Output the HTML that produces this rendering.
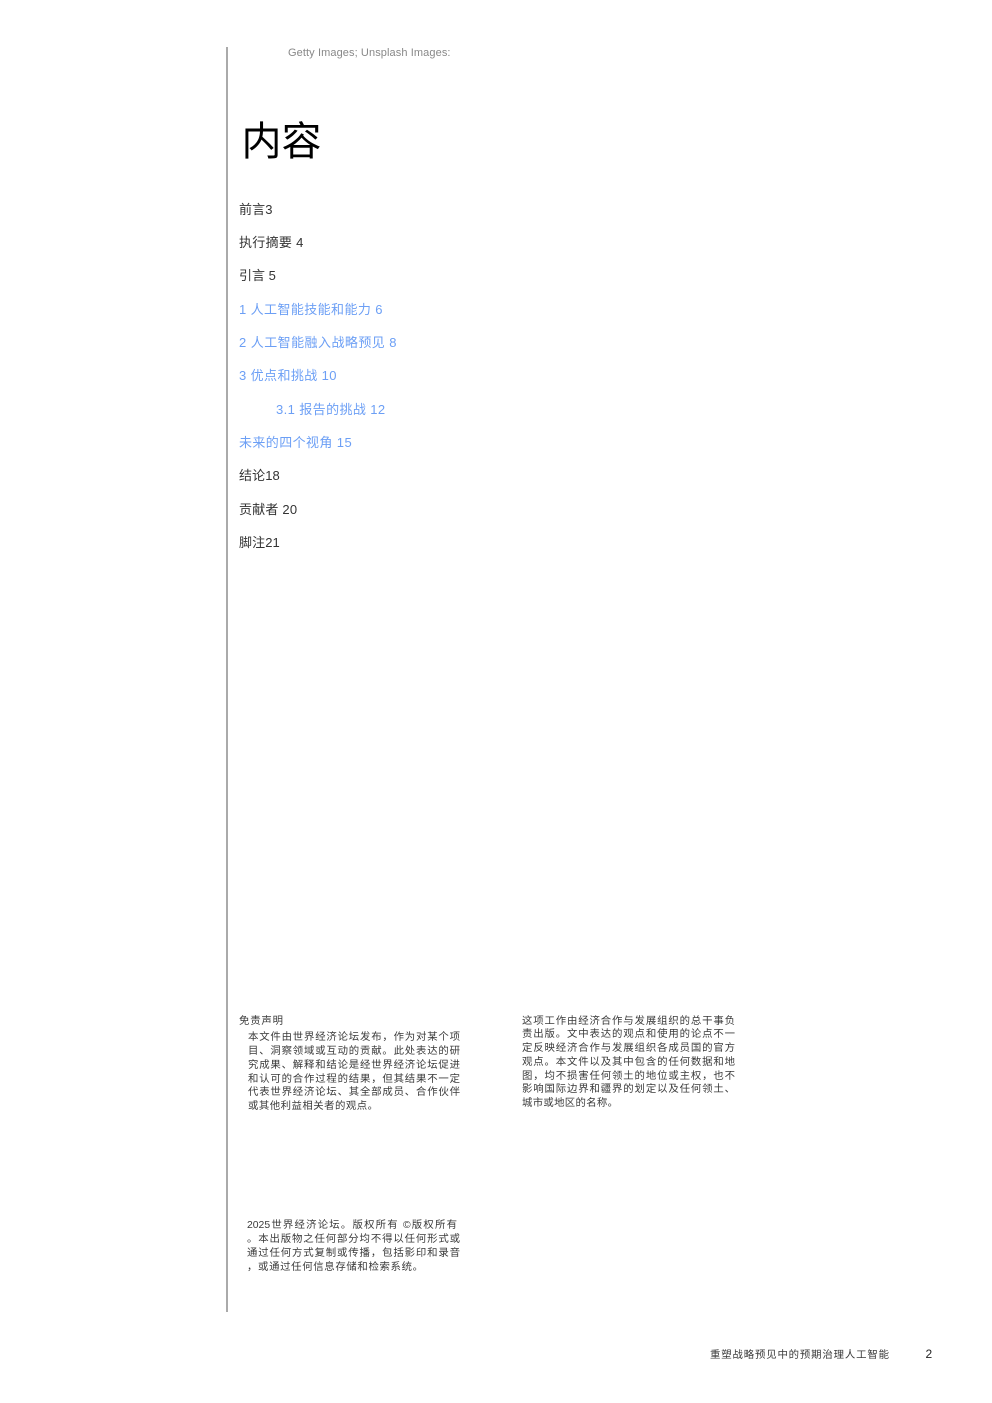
<!DOCTYPE html>
<html lang="zh"><head><meta charset="utf-8"><style>
html,body{margin:0;padding:0;background:#fff}
#p{position:relative;width:992px;height:1403px;overflow:hidden;font-family:"Liberation Sans","Noto Sans CJK SC",sans-serif;color:#333}
#p div{position:absolute;white-space:nowrap}
.t{font-size:13px;line-height:18px;left:239px}
.b{color:#6c9ff5}
.s{font-size:10.4px;line-height:14px;height:14px;text-align:justify;text-align-last:justify;white-space:normal!important;color:#3a3a3a}
.l{left:248px;width:212px}
.r{left:522px;width:213px}
</style></head><body><div id="p">
<div style="left:226px;top:47px;width:2px;height:1265px;background:#aaa"></div>
<div style="left:288px;top:46px;font-size:11px;line-height:14px;color:#888;letter-spacing:.1px">Getty Images; Unsplash Images:</div>
<div style="left:241.5px;top:113px;font-size:40px;line-height:58px;color:#000">内容</div>
<div class="t" style="top:201px;letter-spacing:.1px">前言3</div>
<div class="t" style="top:234px;letter-spacing:.3px">执行摘要 4</div>
<div class="t" style="top:267px">引言 5</div>
<div class="t b" style="top:301px;letter-spacing:.4px">1 人工智能技能和能力 6</div>
<div class="t b" style="top:334px;letter-spacing:.45px">2 人工智能融入战略预见 8</div>
<div class="t b" style="top:367px;letter-spacing:.4px">3 优点和挑战 10</div>
<div class="t b" style="top:401px;left:276px;letter-spacing:.4px">3.1 报告的挑战 12</div>
<div class="t b" style="top:434px;letter-spacing:.4px">未来的四个视角 15</div>
<div class="t" style="top:467px;letter-spacing:.1px">结论18</div>
<div class="t" style="top:501px;letter-spacing:.2px">贡献者 20</div>
<div class="t" style="top:534px;letter-spacing:.1px">脚注21</div>
<div class="s" style="left:239px;top:1015px;width:44px">免责声明</div>
<div class="s l" style="top:1031px">本文件由世界经济论坛发布，作为对某个项</div>
<div class="s l" style="top:1045px">目、洞察领域或互动的贡献。此处表达的研</div>
<div class="s l" style="top:1059px">究成果、解释和结论是经世界经济论坛促进</div>
<div class="s l" style="top:1073px">和认可的合作过程的结果，但其结果不一定</div>
<div class="s l" style="top:1086px">代表世界经济论坛、其全部成员、合作伙伴</div>
<div class="s" style="left:248px;top:1100px;width:130px">或其他利益相关者的观点。</div>
<div class="s r" style="top:1015px">这项工作由经济合作与发展组织的总干事负</div>
<div class="s r" style="top:1028px">责出版。文中表达的观点和使用的论点不一</div>
<div class="s r" style="top:1042px">定反映经济合作与发展组织各成员国的官方</div>
<div class="s r" style="top:1056px">观点。本文件以及其中包含的任何数据和地</div>
<div class="s r" style="top:1070px">图，均不损害任何领土的地位或主权，也不</div>
<div class="s r" style="top:1083px">影响国际边界和疆界的划定以及任何领土、</div>
<div class="s" style="left:522px;top:1097px;width:96px">城市或地区的名称。</div>
<div class="s" style="left:247px;top:1219px;width:210px">2025世界经济论坛。版权所有 ©版权所有</div>
<div class="s" style="left:247px;top:1233px;width:213px">。本出版物之任何部分均不得以任何形式或</div>
<div class="s" style="left:247px;top:1247px;width:213px">通过任何方式复制或传播，包括影印和录音</div>
<div class="s" style="left:247px;top:1261px;width:176px">，或通过任何信息存储和检索系统。</div>
<div class="s" style="left:710px;top:1349px;width:179px">重塑战略预见中的预期治理人工智能</div>
<div style="left:925.5px;top:1347px;font-size:12px;line-height:15px;color:#222">2</div>
</div></body></html>
